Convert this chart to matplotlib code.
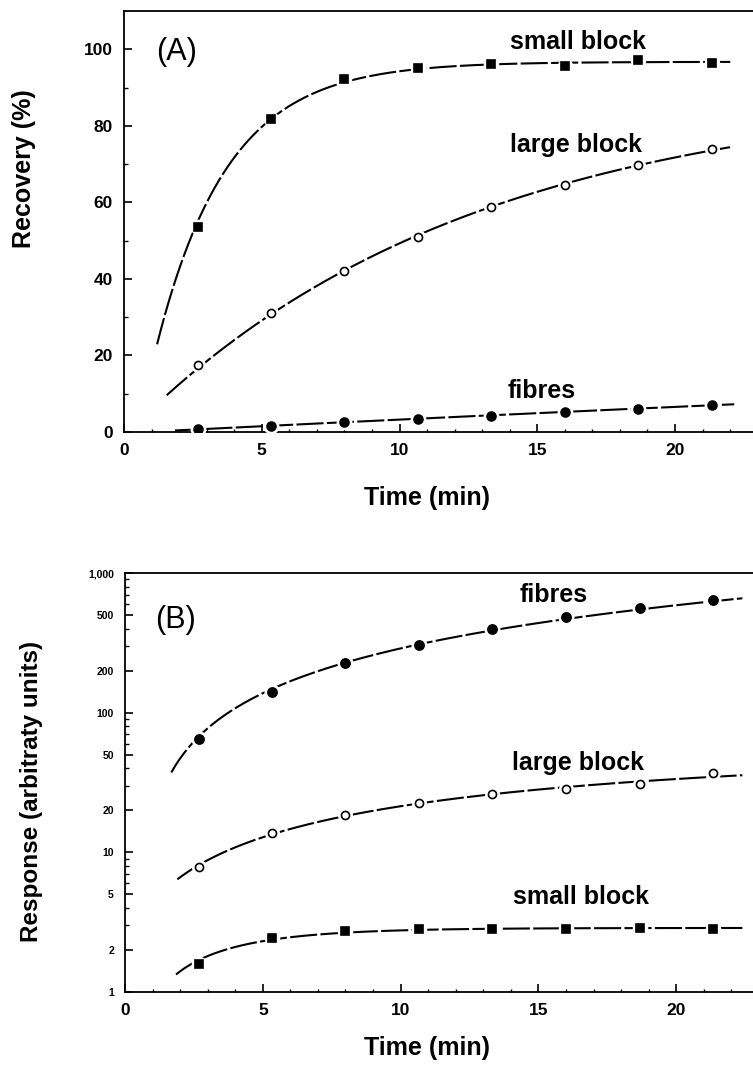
import numpy as np
import matplotlib
matplotlib.use("Agg")
import matplotlib.pyplot as plt
import matplotlib.font_manager as fm
from matplotlib.ticker import FixedLocator, FixedFormatter, LogLocator, NullFormatter, MultipleLocator

# sampling times (min)
time_min = [2.67, 5.33, 8.0, 10.67, 13.33, 16.0, 18.67, 21.33]

# (A) recovery (%)
rec_small = [53.5, 81.9, 92.2, 95.0, 96.2, 95.6, 97.3, 96.3]
rec_large = [17.6, 31.0, 42.0, 51.0, 58.7, 64.6, 69.8, 74.0]
rec_fibres = [0.7, 1.6, 2.6, 3.5, 4.3, 5.3, 6.1, 7.0]

# (B) response (arbitrary units)
resp_fibres = [64.7, 141, 226, 303, 395, 481, 562, 640]
resp_large = [7.85, 13.7, 18.6, 22.6, 26.0, 28.5, 30.7, 36.8]
resp_small = [1.59, 2.45, 2.72, 2.82, 2.82, 2.82, 2.89, 2.82]

# fitted curves: (start time, value where the drawn curve starts, end time)
curve_a = {"small": (1.2, 23.6, 22.1), "large": (1.55, 8.6, 22.0),
           "fibres": (1.85, 0.4, 22.15)}
curve_b = {"fibres": (1.68, 38.8, 22.4), "large": (1.9, 6.5, 22.4),
           "small": (1.85, 1.38, 22.4)}

log_ticks = [1, 2, 5, 10, 20, 50, 100, 200, 500, 1000]
log_labels = ["1", "2", "5", "10", "20", "50", "100", "200", "500", "1,000"]


def pick_font():
    names = {f.name for f in fm.fontManager.ttflist}
    for name in ["Liberation Sans", "Arial", "DejaVu Sans"]:
        if name in names:
            return name
    return "DejaVu Sans"


plt.rcParams["font.family"] = pick_font()
plt.rcParams["axes.linewidth"] = 1.3


def fit_saturation(t, y, rel=False):
    # y = A * (1 - exp(-k (t - t0))), grid over k and t0, A by least squares
    t = np.asarray(t, float)
    y = np.asarray(y, float)
    k = np.logspace(-3, 0.5, 300)[:, None, None]
    t0 = np.linspace(-6, 1.5, 151)[None, :, None]
    g = 1 - np.exp(-k * (t[None, None, :] - t0))
    w = 1 / y if rel else np.ones_like(y)
    A = (g * y * w ** 2).sum(-1) / (g * g * w ** 2).sum(-1)
    res = (((A[..., None] * g - y) * w) ** 2).sum(-1)
    i, j = np.unravel_index(np.argmin(res), res.shape)
    return A[i, j], k[i, 0, 0], t0[0, j, 0]


def draw_series(ax, y, curve, marker, filled, ms, rel=False):
    t_start, y_start, t_end = curve
    A, k, t0 = fit_saturation([t_start] + time_min, [y_start] + y, rel)
    tt = np.linspace(t_start, t_end, 300)
    yy = A * (1 - np.exp(-k * (tt - t0)))
    if rel:
        tt, yy = tt[yy > 0], yy[yy > 0]
    ax.plot(tt, yy, color="black", lw=1.5, ls=(0, (13, 1.6)), zorder=2)
    # white halo so the curve breaks around the symbols
    ax.plot(time_min, y, ls="none", marker="o", ms=ms + 4, color="white",
            mec="white", zorder=3)
    ax.plot(time_min, y, ls="none", marker=marker, ms=ms,
            mfc="black" if filled else "white", mec="black", mew=1.2, zorder=4)


def style_axis(ax):
    ax.spines["right"].set_visible(False)
    ax.tick_params(which="major", direction="in", length=6, width=1.2, pad=8,
                   labelsize=12.5)
    ax.tick_params(which="minor", direction="in", length=3, width=1.0)
    ax.tick_params(axis="x", which="minor", length=2)
    ax.xaxis.set_major_locator(FixedLocator([0, 5, 10, 15, 20]))
    ax.xaxis.set_minor_locator(MultipleLocator(1))
    for lab in ax.get_xticklabels() + ax.get_yticklabels():
        lab.set_fontweight("bold")


fig = plt.figure(figsize=(7.53, 10.70), dpi=100)
W, H = 753, 1070

# ---- panel A
ax_a = fig.add_axes([124 / W, 1 - 432 / H, 629 / W, 421 / H])
ax_a.set_xlim(0, 629 / 27.55)
ax_a.set_ylim(0, 110)
draw_series(ax_a, rec_small, curve_a["small"], "s", True, 6.2)
draw_series(ax_a, rec_large, curve_a["large"], "o", False, 5.8)
draw_series(ax_a, rec_fibres, curve_a["fibres"], "o", True, 6.4)
ax_a.yaxis.set_major_locator(FixedLocator([0, 20, 40, 60, 80, 100]))
ax_a.yaxis.set_minor_locator(FixedLocator([10, 30, 50, 70, 90]))
style_axis(ax_a)

ax_a.text(1.92, 97.3, "(A)", fontsize=22, ha="center", va="baseline")
ax_a.text(16.48, 100.2, "small block", fontsize=18, fontweight="bold",
          ha="center", va="baseline")
ax_a.text(16.4, 73.2, "large block", fontsize=18, fontweight="bold",
          ha="center", va="baseline")
ax_a.text(15.15, 8.8, "fibres", fontsize=18, fontweight="bold",
          ha="center", va="baseline")

fig.text(24 / W, 1 - 169 / H, "Recovery (%)", rotation=90, fontsize=18,
         fontweight="bold", ha="center", va="center")
fig.text(427 / W, 1 - 498 / H, "Time (min)", fontsize=18, fontweight="bold",
         ha="center", va="center")

# ---- panel B
ax_b = fig.add_axes([125 / W, 1 - 992 / H, 628 / W, 419 / H])
ax_b.set_yscale("log")
ax_b.set_xlim(0, 628 / 27.56)
ax_b.set_ylim(1, 1000)
draw_series(ax_b, resp_fibres, curve_b["fibres"], "o", True, 6.6, rel=True)
draw_series(ax_b, resp_large, curve_b["large"], "o", False, 5.8, rel=True)
draw_series(ax_b, resp_small, curve_b["small"], "s", True, 6.2, rel=True)
ax_b.yaxis.set_major_locator(FixedLocator(log_ticks))
ax_b.yaxis.set_major_formatter(FixedFormatter(log_labels))
ax_b.yaxis.set_minor_locator(LogLocator(base=10, subs=np.arange(2, 10)))
ax_b.yaxis.set_minor_formatter(NullFormatter())
style_axis(ax_b)
ax_b.tick_params(axis="y", which="major", labelsize=7.5)
for lab in ax_b.get_yticklabels():
    lab.set_fontweight("bold")

ax_b.text(1.85, 401, "(B)", fontsize=22, ha="center", va="baseline")
ax_b.text(15.56, 616, "fibres", fontsize=18, fontweight="bold",
          ha="center", va="baseline")
ax_b.text(16.43, 38.8, "large block", fontsize=18, fontweight="bold",
          ha="center", va="baseline")
ax_b.text(16.53, 4.25, "small block", fontsize=18, fontweight="bold",
          ha="center", va="baseline")

fig.text(32 / W, 1 - 791 / H, "Response (arbitraty units)", rotation=90,
         fontsize=17.5, fontweight="bold", ha="center", va="center")
fig.text(427 / W, 1 - 1048 / H, "Time (min)", fontsize=18, fontweight="bold",
         ha="center", va="center")

fig.savefig("out.png", dpi=100, facecolor="white")
